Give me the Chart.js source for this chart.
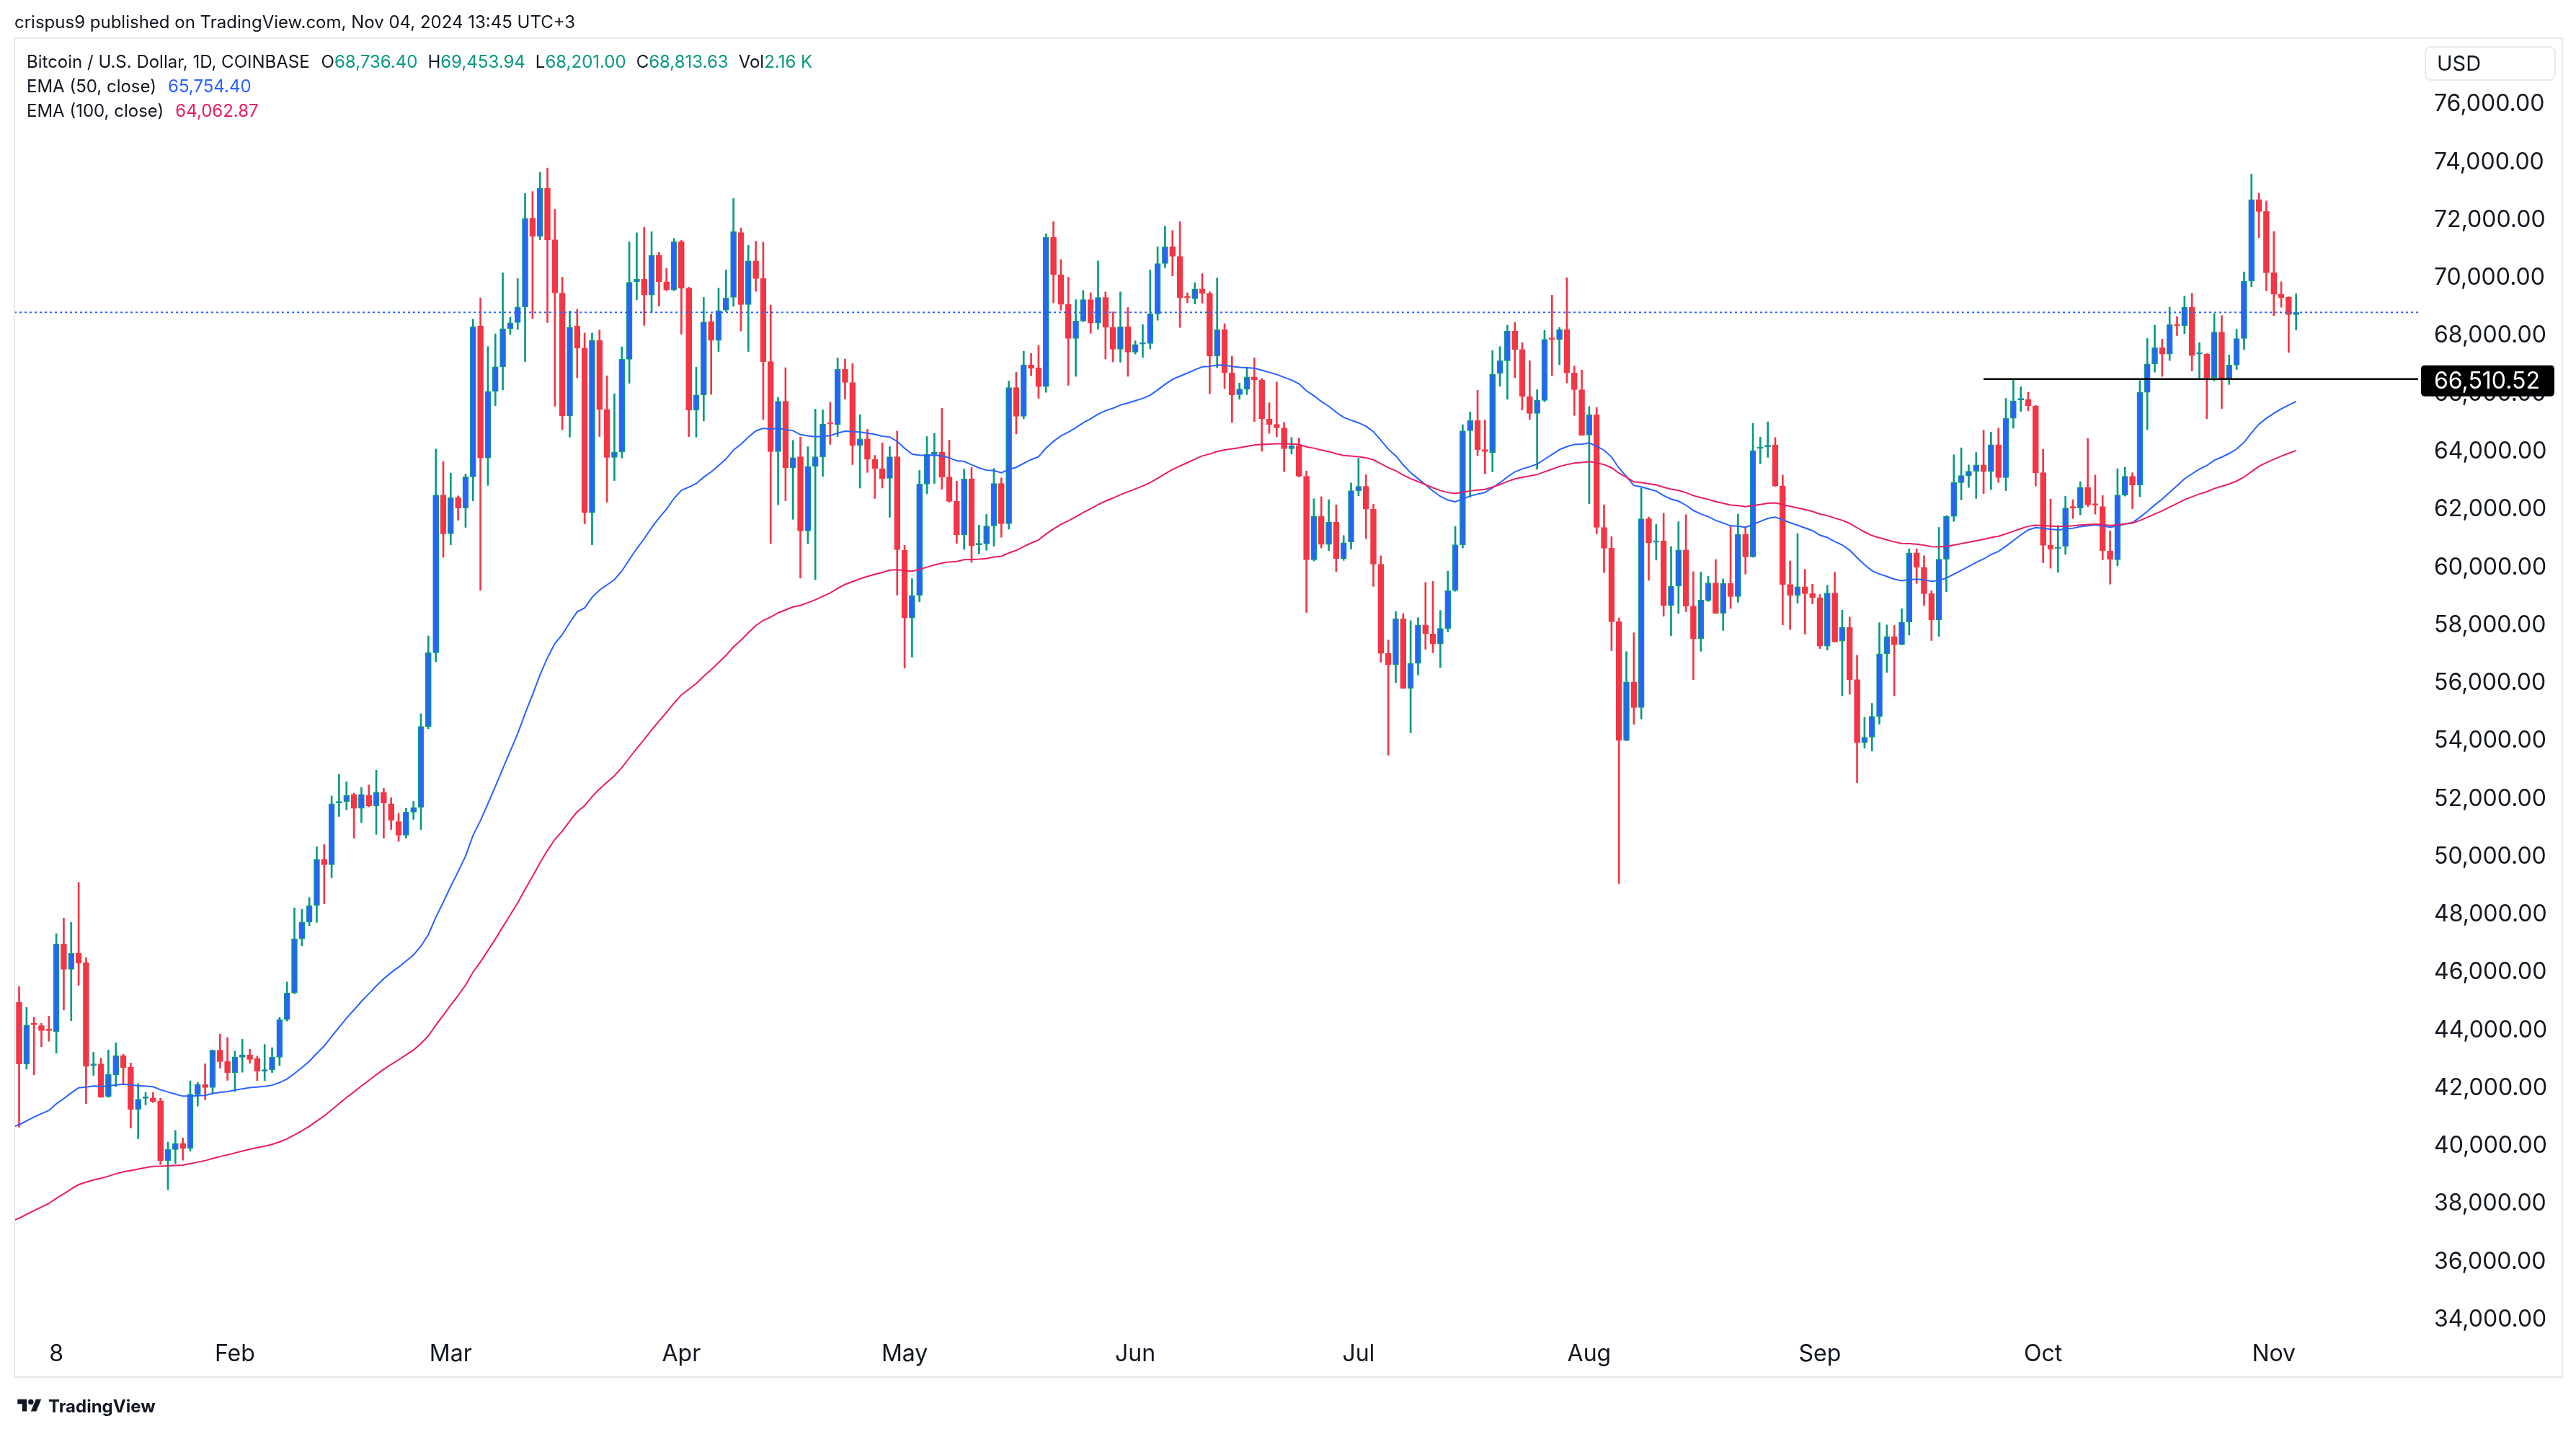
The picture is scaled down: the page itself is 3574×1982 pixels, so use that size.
<!DOCTYPE html>
<html><head><meta charset="utf-8">
<script src="https://cdn.jsdelivr.net/npm/chart.js@4.4.1/dist/chart.umd.min.js"></script>
<style>
html,body{margin:0;padding:0;background:#fff;}
body{width:3574px;height:1982px;position:relative;overflow:hidden;font-family:Inter,"Noto Sans",sans-serif;color:#131722;}
#c{position:absolute;left:0;top:0;}
.frame{position:absolute;left:19px;top:52px;width:3537px;height:1859px;border:2px solid #e6e8ee;box-sizing:border-box;pointer-events:none;}
.hdr{position:absolute;left:20px;top:14px;font-size:24px;line-height:34px;white-space:nowrap;}
.leg{position:absolute;left:37px;font-size:24px;line-height:34px;white-space:nowrap;}
.leg span.k{margin-left:14px;}
.leg span.k0{margin-left:16px;}
.g{color:#089981;} .b{color:#2962ff;} .r{color:#e91e63;}
.usd{position:absolute;left:3364px;top:64px;width:182px;height:48px;border:2px solid #e6e8ee;border-radius:9px;box-sizing:border-box;font-size:29px;line-height:44px;padding-left:15px;}
.logo{position:absolute;left:23px;top:1936px;height:28px;display:flex;align-items:center;font-size:24px;font-weight:700;white-space:nowrap;}
.logo svg{margin-right:8px;}
</style></head>
<body>
<canvas id="c" width="3574" height="1982"></canvas>
<div class="frame"></div>
<div class="hdr">crispus9 published on TradingView.com, Nov 04, 2024 13:45 UTC+3</div>
<div class="leg" id="leg1" style="top:69px"></div>
<div class="leg" style="top:103px">EMA (50, close)<span class="b" style="margin-left:16px">65,754.40</span></div>
<div class="leg" style="top:137px">EMA (100, close)<span class="r" style="margin-left:16px">64,062.87</span></div>
<div class="usd">USD</div>
<div class="logo"><svg width="36" height="26" viewBox="0 0 36 28"><path fill="#131722" d="M14 22H7V11H0V4h14v18zM28 22h-8l7.5-18h8L28 22z"/><circle fill="#131722" cx="20" cy="8" r="4"/></svg>TradingView</div>
<script>
// ---- data: daily candles [open, high, low, close], COINBASE BTC/USD, from Jan 2 2024 ----
const startDate = '2024-01-02';
const jan = [[44220,45620,44120,44970],[44970,45510,40650,42840],[42840,44790,42660,44180],[44220,44450,42460,44190],[44160,44240,43430,43990],[44020,44490,43620,43990],[43950,47340,43210,46980],[46980,47880,44700,46110],[46110,47730,44330,46660],[46660,49110,45550,46320],[46340,46510,41460,42750],[42780,43240,42440,42840],[42840,43040,41680,41690],[41710,43320,41680,42480],[42460,43570,42050,43120],[43120,43170,42160,42710],[42720,42870,40620,41260],[41270,42160,40250,41620],[41650,41850,41420,41680],[41660,41850,41500,41540],[41560,41650,39360,39490],[39490,40140,38490,39880],[39880,40540,39400,40090],[40090,40280,39510,39920],[39920,42250,39820,41790],[41770,42200,41380,42130],[42130,42840,41600,42020],[42020,43320,41800,43310],[43310,43870,42690,42920],[42920,43750,42270,42540]];
const feb = [[42540,43280,41880,43070],[43070,43690,42550,43150],[43150,43350,42860,42990],[43020,43110,42260,42590],[42590,43510,42260,42640],[42640,43400,42540,43070],[43070,44450,42780,44370],[44370,45670,44320,45290],[45290,48230,45260,47160],[47160,48180,46920,47740],[47740,48590,47610,48310],[48310,50340,47730,49910],[49910,50420,48370,49720],[49720,52100,49270,51830],[51860,52850,51390,51910],[51910,52590,51620,52120],[52150,52200,50640,51670],[51670,52390,51180,52150],[52120,52480,51720,51750],[51750,52990,50770,52230],[52230,52360,50640,51860],[51830,52040,50940,51260],[51210,51500,50530,50740],[50740,51670,50640,51540],[51540,51910,51290,51700],[51710,54940,50940,54500],[54500,57630,54420,57050],[57050,64090,56740,62500],[62500,63660,60350,61160]];
const mar = [[61160,63260,60780,62410],[62410,62470,61630,62050],[62050,63230,61380,63130],[63130,68580,62300,68320],[68340,69310,59210,63780],[63780,67630,62830,66080],[66080,68070,65590,66930],[66930,70180,66130,68250],[68250,68650,68050,68450],[68460,69980,68220,69000],[69000,72920,67110,72060],[72070,72990,68600,71440],[71440,73660,71320,73100],[73100,73800,68460,71320],[71320,72370,65570,69480],[69480,70030,64760,65230],[65230,68860,64500,68300],[68340,68920,66550,67580],[67580,68100,61510,61890],[61890,68100,60780,67840],[67840,68200,64520,65460],[65460,66620,62250,63800],[63800,66000,63000,63990],[63990,67620,63780,67190],[67190,71250,66360,69850],[69870,71560,69250,69960],[69960,71750,68360,69410],[69410,71600,68820,70780],[70780,70890,69030,69870],[69870,70340,69560,69590],[69590,71370,69560,71250]];
const apr = [[71250,71300,68060,69650],[69650,69680,64520,65440],[65440,66920,64500,65960],[65960,69330,65060,68480],[68500,68750,65980,67840],[67840,69650,67460,68870],[68890,70280,68840,69310],[69330,72750,69020,71600],[71570,71730,68170,69080],[69080,71130,67460,70590],[70590,71270,69540,69980],[69980,71240,65110,67110],[67110,69060,60820,64000],[64000,65870,62160,65740],[65740,66900,62300,63440],[63440,64390,61660,63790],[63820,64500,59630,61260],[61260,64170,60820,63490],[63490,65470,59570,63820],[63820,65440,63140,64950],[64980,65710,64250,64950],[64930,67240,64520,66840],[66840,67200,65820,66390],[66390,67040,63550,64220],[64220,65280,62740,64440],[64440,64770,63280,63730],[63730,63870,62380,63410],[63410,64300,62740,63060],[63080,64170,61730,63820],[63820,64710,59040,60610]];
const may = [[60590,60760,56520,58250],[58250,59610,56900,59030],[59030,63350,58810,62880],[62880,64520,62540,63900],[63900,64630,62900,63980],[63980,65500,62700,63120],[63120,64400,62250,62280],[62280,62980,60830,61130],[61130,63400,60620,63060],[63060,63450,60170,60750],[60780,61460,60470,60810],[60810,61830,60590,61430],[61430,63420,60730,62900],[62900,63090,61040,61510],[61510,66440,61320,66210],[66210,66740,64610,65220],[65220,67470,65130,67000],[67000,67390,66620,66880],[66890,67670,65840,66250],[66250,71530,66050,71400],[71400,71950,69140,70110],[70110,70640,68890,69090],[69090,70030,66290,67910],[67910,69250,66600,68510],[68510,69570,68490,69250],[69250,69490,68090,68440],[68440,70590,68230,69330],[69330,69520,67200,68300],[68300,68830,67100,67540],[67540,69520,67090,68310],[68310,68980,66600,67440]];
const jun = [[67440,67830,67370,67700],[67720,68390,67260,67740],[67740,70280,67550,68760],[68760,71080,68540,70500],[70500,71790,70360,71080],[71080,71640,70070,70750],[70750,71950,68290,69310],[69340,69490,69140,69310],[69280,69840,69100,69620],[69620,70150,69130,69470],[69470,69520,66000,67300],[67300,70000,66900,68210],[68210,68420,66180,66720],[66720,67300,65010,65960],[65970,66370,65810,66160],[66160,66900,65970,66580],[66580,67240,65040,66470],[66470,66530,64010,65130],[65130,65690,64630,64940],[64940,66410,64510,64820],[64820,65010,63310,64100],[64100,64490,63920,64200],[64200,64470,63120,63150],[63150,63330,58440,60260],[60260,62370,60220,61760],[61760,62440,60670,60790],[60790,62340,60580,61560],[61560,62160,59860,60300],[60300,61100,60240,60850],[60880,62920,60630,62650]];
const jul = [[62650,63770,62470,62800],[62800,63200,60990,62010],[62010,62180,59340,60110],[60110,60400,56720,57030],[57030,57490,53510,56630],[56630,58470,56020,58220],[58220,58400,55810,55820],[55820,58160,54280,56680],[56680,58260,56280,58010],[58010,59480,57170,57700],[57700,59520,57050,57350],[57350,58510,56540,57890],[57890,59870,57770,59200],[59200,61410,59170,60780],[60780,64930,60670,64720],[64720,65370,62420,65070],[65070,66120,63860,64070],[64070,65090,63230,64000],[63970,67490,63300,66680],[66700,67630,66260,67140],[67140,68370,65810,68160],[68160,68470,66560,67530],[67530,67770,65440,65910],[65910,67140,65110,65320],[65320,66140,63390,65770],[65770,68190,65720,67880],[67910,69410,66630,67880],[67870,68290,67000,68220],[68220,70010,66370,66720],[66720,66960,65250,66140],[66140,66820,64560,64560]];
const aug = [[64570,65560,62200,65270],[65270,65530,61160,61380],[61380,62160,59820,60660],[60660,61060,57120,58120],[58120,58250,49070,54020],[54020,57090,54000,56040],[56040,57740,54580,55150],[55150,62740,54760,61680],[61680,61740,59550,60850],[60870,61490,60250,60900],[60920,61870,58310,58680],[58680,60720,57640,59350],[59350,61580,58410,60600],[60600,61820,58470,58660],[58660,59850,56120,57530],[57530,59840,57100,58870],[58850,59690,58820,59460],[59460,60270,58410,58410],[58410,59600,57820,59440],[59440,61440,58580,58990],[58990,61840,58790,61140],[61140,61410,59770,60360],[60360,64980,60350,64030],[64110,64500,63580,64140],[64170,65030,63800,64220],[64230,64490,62800,62810],[62810,63190,58010,59410],[59410,60220,57850,59030],[59030,61170,58760,59330],[59330,59930,57690,59090],[59090,59420,58740,58950]];
const sep = [[58950,59060,57190,57280],[57280,59380,57140,59110],[59110,59830,57420,57420],[57450,58520,55560,57930],[57930,58280,55610,56120],[56120,56960,52560,53940],[53940,54820,53750,54130],[54130,55300,53650,54850],[54850,58090,54580,57010],[57010,58010,56370,57610],[57610,57990,55560,57330],[57330,58570,57320,58110],[58110,60640,57660,60500],[60500,60640,59440,60000],[60000,60400,58680,59090],[59090,59190,57470,58180],[58180,61380,57610,60280],[60280,61790,59160,61760],[61760,63890,61590,62930],[62930,64130,62330,63170],[63170,63540,62760,63320],[63320,63970,62380,63540],[63540,64740,62550,63310],[63310,64670,62690,64240],[64240,64810,62930,63100],[63100,65840,62650,65150],[65150,66510,64810,65750],[65790,66240,65390,65830],[65810,66050,65410,65580],[65580,65600,62810,63270]];
const oct = [[63270,64080,60160,60760],[60760,62360,59970,60620],[60640,61450,59830,60690],[60720,62460,60450,62050],[62070,62340,61690,62050],[62050,62960,61810,62770],[62770,64460,62100,62170],[62190,63190,61840,62150],[62100,62480,60260,60570],[60570,61260,59420,60280],[60260,63410,60050,62500],[62500,63460,62460,63150],[63150,63270,62030,62840],[62840,66460,62440,66050],[66050,67910,64760,67030],[67030,68370,66750,67590],[67590,67890,66600,67370],[67370,68990,67150,68390],[68390,68670,68010,68350],[68350,69370,68080,68990],[68990,69470,66790,67320],[67370,67770,66540,67390],[67370,67390,65140,66560],[66560,68770,66440,68130],[68130,68700,65490,66530],[66530,67340,66320,66990],[66990,68230,66840,67910],[67910,70210,67530,69890],[69890,73590,69700,72710],[72710,72930,71390,72300],[72300,72660,69560,70180]];
const nov = [[70180,71610,68700,69440],[69440,69870,68990,69320],[69340,69350,67430,68736.40],[68736.40,69453.94,68201.00,68813.63]];

// EMA values on Jan 2 (the indicator then follows the closes)
const ema50Seed = 40650;
const ema100Seed = 37400;
// horizontal level drawn on the chart
const levelPrice = 66510.52;
const levelStartDate = '2024-09-23';
const volText = '2.16 K';
// axis ticks
const yTicks = [34000,36000,38000,40000,42000,44000,46000,48000,50000,52000,54000,56000,58000,60000,62000,64000,66000,68000,70000,72000,74000,76000];
const xTickDates = ['2024-01-08','2024-02-01','2024-03-01','2024-04-01','2024-05-01','2024-06-01','2024-07-01','2024-08-01','2024-09-01','2024-10-01','2024-11-01'];
const xTickLabels = ['8','Feb','Mar','Apr','May','Jun','Jul','Aug','Sep','Oct','Nov'];

// ---- build ----
const candles = [].concat(jan,feb,mar,apr,may,jun,jul,aug,sep,oct,nov);
const opens = candles.map(c=>c[0]), closes = candles.map(c=>c[3]);
const dayIdx = d => Math.round((Date.parse(d+'T00:00:00Z') - Date.parse(startDate+'T00:00:00Z'))/86400000);
const xTickIdx = xTickDates.map(dayIdx);
const UP_BODY='#2962ff', UP='#089981', DOWN='#f23645';
const isUp = closes.map((c,i)=>c>=opens[i]);
const ema50=[], ema100=[];
{ let a=ema50Seed, b=ema100Seed;
  closes.forEach((c,i)=>{ if(i>0){ a += 2/51*(c-a); b += 2/101*(c-b);} ema50.push({x:i,y:a}); ema100.push({x:i,y:b}); }); }
const last = candles[candles.length-1];
const fmt = v => v.toLocaleString('en-US',{minimumFractionDigits:2,maximumFractionDigits:2});
document.getElementById('leg1').innerHTML = 'Bitcoin / U.S. Dollar, 1D, COINBASE' +
  ['O','H','L','C'].map((k,i)=>`<span class="${i?'k':'k0'}">${k}<span class="g">${fmt(last[i])}</span></span>`).join('') +
  `<span class="k">Vol<span class="g">${volText}</span></span>`;

const X_MIN = 0.37, X_MAX = 323.4;
const Y_MIN = 33634, Y_MAX = 78263;
const FONT = 'Inter, "Noto Sans", sans-serif';

const levelLabel = {
  id:'levelLabel',
  afterDraw(chart){
    const {ctx, chartArea, scales:{y}} = chart;
    const py = y.getPixelForValue(levelPrice);
    const x0 = chartArea.right + 4, w = 185, h = 43, y0 = py - 19;
    ctx.save();
    ctx.fillStyle = '#000';
    ctx.beginPath();
    ctx.roundRect(x0, y0, w, h, 5);
    ctx.fill();
    ctx.fillStyle = '#fff';
    ctx.font = '32px ' + FONT;
    ctx.textBaseline = 'middle';
    ctx.textAlign = 'left';
    ctx.fillText(fmt(levelPrice), chartArea.right + 22, y0 + h/2 + 1);
    ctx.restore();
  }
};

new Chart(document.getElementById('c').getContext('2d'), {
  type:'bar',
  data:{ datasets:[
    { type:'line', data:[{x:X_MIN,y:last[3]},{x:X_MAX,y:last[3]}], borderColor:'#2962ff', borderWidth:2, borderDash:[3,4], pointRadius:0, order:-3 },
    { type:'line', data:[{x:dayIdx(levelStartDate),y:levelPrice},{x:X_MAX,y:levelPrice}], borderColor:'#000', borderWidth:2.5, pointRadius:0, order:-3 },
    { type:'line', data:ema50, borderColor:'#2962ff', borderWidth:2, pointRadius:0, tension:0, order:-1 },
    { type:'line', data:ema100, borderColor:'#e91e63', borderWidth:2, pointRadius:0, tension:0, order:-2 },
    { type:'bar', data:candles.map((c,i)=>({x:i,y:[c[0],c[3]]})), backgroundColor:isUp.map(u=>u?UP_BODY:DOWN), borderColor:isUp.map(u=>u?UP:DOWN),
      borderWidth:1.5, borderSkipped:false, barThickness:8, grouped:false, minBarLength:2, order:1 },
    { type:'bar', data:candles.map((c,i)=>({x:i,y:[c[2],c[1]]})), backgroundColor:isUp.map(u=>u?UP:DOWN), borderWidth:0,
      barThickness:2, grouped:false, order:2 }
  ]},
  options:{
    responsive:false, animation:false, devicePixelRatio:1,
    layout:{ padding:{ left:20, top:54, right:19, bottom:72 } },
    plugins:{ legend:{display:false}, tooltip:{enabled:false} },
    scales:{
      x:{ type:'linear', min:X_MIN, max:X_MAX, offset:false, position:'bottom',
        grid:{display:false, drawTicks:false}, border:{display:false},
        afterBuildTicks: s => { s.ticks = xTickIdx.map(v=>({value:v})); },
        afterFit: s => { s.height = 65; },
        ticks:{ autoSkip:false, maxRotation:0, padding:14, color:'#131722', font:{family:FONT, size:32},
          callback: v => xTickLabels[xTickIdx.indexOf(v)] } },
      y:{ type:'linear', position:'right', min:Y_MIN, max:Y_MAX,
        grid:{display:false, drawTicks:false}, border:{display:false},
        afterBuildTicks: s => { s.ticks = yTicks.map(v=>({value:v})); },
        afterFit: s => { s.width = 200; },
        ticks:{ padding:22, color:'#131722', font:{family:FONT, size:32}, callback: v => fmt(v) } }
    }
  },
  plugins:[levelLabel]
});
</script>
</body></html>
